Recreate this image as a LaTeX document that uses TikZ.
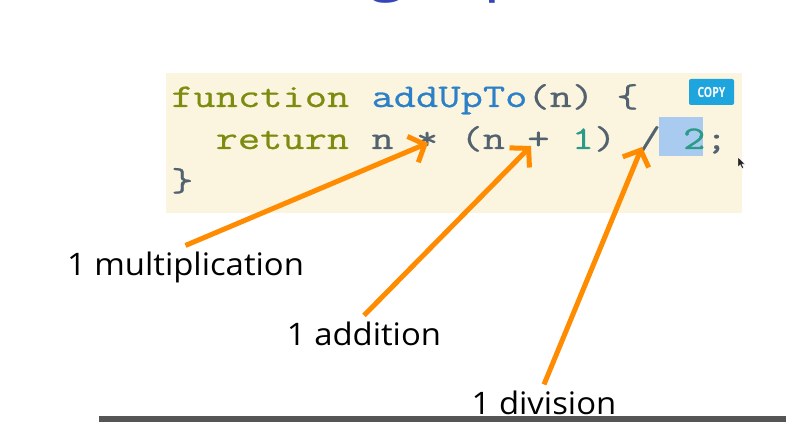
\documentclass[tikz,border=0pt]{standalone}
\usepackage{fontspec}
\setmainfont{Open Sans}
\newfontfamily\codefont[FakeStretch=1.31,FakeBold=0.7]{Latin Modern Mono}
\newfontfamily\copyfont[FakeStretch=0.75]{Open Sans}
\newfontfamily\labelfont[FakeStretch=1.06]{Open Sans}
\newfontfamily\titlefont{Open Sans}
\usetikzlibrary{arrows.meta}
\definecolor{codebg}{HTML}{FBF4DE}
\definecolor{kwc}{HTML}{7C8C0E}
\definecolor{fnc}{HTML}{2B80C8}
\definecolor{opc}{HTML}{52636F}
\definecolor{numc}{HTML}{2A9A89}
\definecolor{hlc}{HTML}{A9CBEF}
\definecolor{copyc}{HTML}{1FA5DD}
\definecolor{arrowc}{HTML}{FF8C00}
\definecolor{titlec}{HTML}{3547B8}
\definecolor{barc}{HTML}{555555}
\newcommand\ckw[1]{\textcolor{kwc}{#1}}
\newcommand\cfn[1]{\textcolor{fnc}{#1}}
\newcommand\cop[1]{\textcolor{opc}{#1}}
\newcommand\cnum[1]{\textcolor{numc}{#1}}
\tikzset{
  codeline/.style={anchor=base west, inner sep=0pt, font=\codefont\fontsize{33}{40}\selectfont},
  oplabel/.style={anchor=base, inner sep=0pt, outer sep=6pt, text=black, font=\labelfont\fontsize{31}{36}\selectfont},
  pointer/.style={draw=arrowc, line width=5pt, -{Straight Barb[length=13pt,width=28pt]}},
  titletext/.style={inner sep=0pt, text=titlec, font=\titlefont\fontsize{70}{80}\selectfont},
}
\begin{document}
\begin{tikzpicture}[x=1pt,y=-1pt]
\useasboundingbox (0,0) rectangle (786,422);
\clip (0,0) rectangle (786,422);
\fill[white] (0,0) rectangle (786,422);
% title (mostly cut off at the top edge)
\node[titletext, anchor=base east] (title1) at (407,-13) {Counting};
\node[titletext, anchor=base west] (title2) at (429,-13) {Operations};
% code box
\fill[codebg] (166,73) rectangle (742,213);
\fill[hlc] (659,117) rectangle (703,156);
\fill[copyc, rounded corners=2pt] (689,79) rectangle (734,105);
\node[inner sep=0pt, text=white, font=\copyfont\bfseries\fontsize{14}{16}\selectfont] (copy) at (711.5,92) {COPY};
\node[codeline] (l1) at (171,107) {\ckw{function} \cfn{addUpTo}\cop{(n) \{}};
\node[codeline] (l2) at (215.4,149) {\ckw{return} \cop{n} \cop{*} \cop{(n} \cop{+} \cnum{1}\cop{)} \cop{/}\cnum{\ 2}\cop{;}};
\node[codeline] (l3) at (171,191) {\cop{\}}};
% cursor
\fill[black!85, draw=white, line width=0.4pt] (738,157) -- (738,167) -- (740.3,164.8) -- (742,168.5) -- (743.6,167.8) -- (742,164.2) -- (745,164.2) -- cycle;
% targets
\coordinate (tmul) at (428,143);
\coordinate (tadd) at (531,146);
\coordinate (tdiv) at (642,147);
% labels
\node[oplabel] (mul) at (185.5,275) {1 multiplication};
\node[oplabel] (add) at (364,345) {1 addition};
\node[oplabel] (div) at (544,414) {1 division};
% arrows
\draw[pointer] (mul.north) -- (tmul);
\draw[pointer] (add.north) -- (tadd);
\draw[pointer] (div.north) -- (tdiv);
% bottom bar
\fill[barc] (99,416) rectangle (786,422);
\end{tikzpicture}
\end{document}
